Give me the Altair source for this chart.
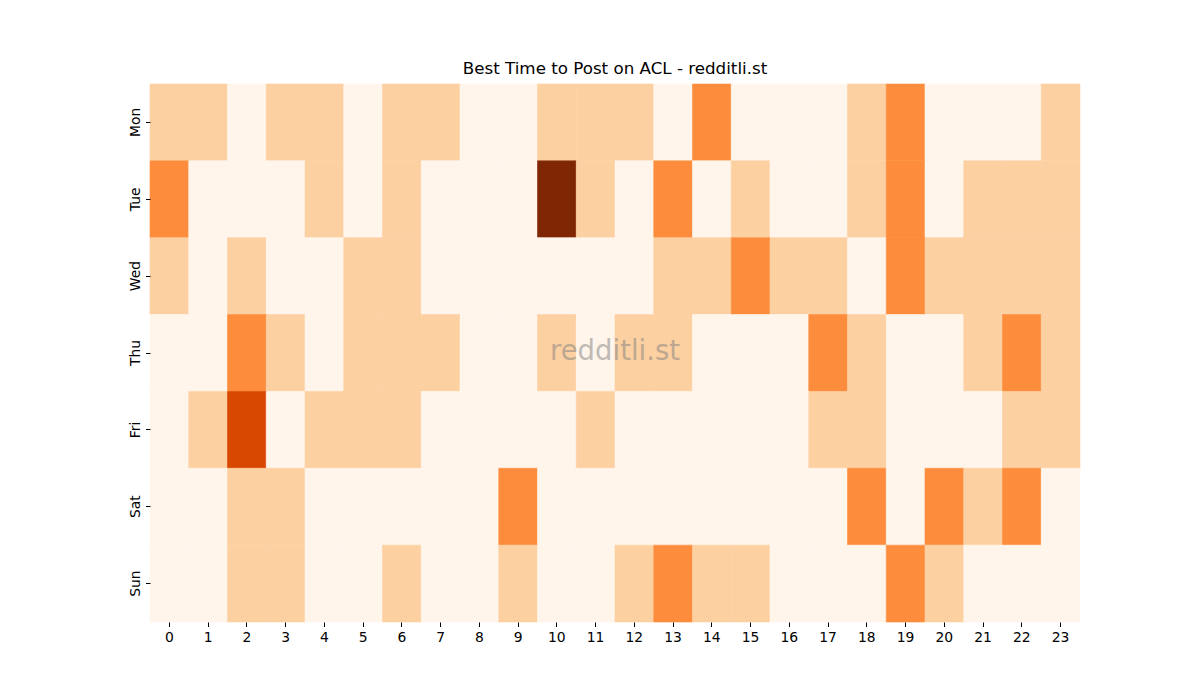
import altair as alt
import pandas as pd

days = ["Mon", "Tue", "Wed", "Thu", "Fri", "Sat", "Sun"]
hours = list(range(24))

mon = [1, 1, 0, 1, 1, 0, 1, 1, 0, 0, 1, 1, 1, 0, 2, 0, 0, 0, 1, 2, 0, 0, 0, 1]
tue = [2, 0, 0, 0, 1, 0, 1, 0, 0, 0, 4, 1, 0, 2, 0, 1, 0, 0, 1, 2, 0, 1, 1, 1]
wed = [1, 0, 1, 0, 0, 1, 1, 0, 0, 0, 0, 0, 0, 1, 1, 2, 1, 1, 0, 2, 1, 1, 1, 1]
thu = [0, 0, 2, 1, 0, 1, 1, 1, 0, 0, 1, 0, 1, 1, 0, 0, 0, 2, 1, 0, 0, 1, 2, 1]
fri = [0, 1, 3, 0, 1, 1, 1, 0, 0, 0, 0, 1, 0, 0, 0, 0, 0, 1, 1, 0, 0, 0, 1, 1]
sat = [0, 0, 1, 1, 0, 0, 0, 0, 0, 2, 0, 0, 0, 0, 0, 0, 0, 0, 2, 0, 2, 1, 2, 0]
sun = [0, 0, 1, 1, 0, 0, 1, 0, 0, 1, 0, 0, 1, 2, 1, 1, 0, 0, 0, 2, 1, 0, 0, 0]

levels = [0, 1, 2, 3, 4]
level_colors = ["#fff5eb", "#fdd0a2", "#fd8d3c", "#d94801", "#7f2704"]

rows = []
for d, vals in zip(days, [mon, tue, wed, thu, fri, sat, sun]):
    for h, v in zip(hours, vals):
        rows.append({"day": d, "hour": h, "value": v})
df = pd.DataFrame(rows)

W, H = 930, 538
cscale = alt.Scale(domain=levels, range=level_colors)

heat = alt.Chart(df).mark_rect(strokeWidth=0.6).encode(
    x=alt.X("hour:O", sort=hours, title=None,
            scale=alt.Scale(paddingInner=0, paddingOuter=0),
            axis=alt.Axis(labelAngle=0, domain=False, ticks=True, tickSize=4.5,
                          tickColor="black", labelColor="black", labelFontSize=13.9,
                          labelFont="DejaVu Sans", labelPadding=4)),
    y=alt.Y("day:O", sort=days, title=None,
            scale=alt.Scale(paddingInner=0, paddingOuter=0),
            axis=alt.Axis(labelAngle=-90, labelAlign="center", labelBaseline="bottom",
                          domain=False, ticks=True, tickSize=4.5, tickColor="black",
                          labelColor="black", labelFontSize=13.9, labelFont="DejaVu Sans",
                          labelPadding=3)),
    color=alt.Color("value:O", scale=cscale, legend=None),
    stroke=alt.Stroke("value:O", scale=cscale, legend=None),
)

wm = alt.Chart(pd.DataFrame({"t": ["redditli.st"]})).mark_text(
    fontSize=27.5, font="DejaVu Sans", color="#808080", opacity=0.5,
    align="center", baseline="middle"
).encode(x=alt.value(W / 2), y=alt.value(H / 2 - 1), text="t:N")

chart = alt.layer(heat, wm).properties(
    width=W, height=H,
    title=alt.TitleParams("Best Time to Post on ACL - redditli.st", fontSize=16.7,
                          font="DejaVu Sans", fontWeight="normal", color="black", offset=6),
    autosize=alt.AutoSizeParams(type="none"),
    padding={"left": 142, "top": 76, "right": 100, "bottom": 60},
).configure_view(stroke=None)

chart.save("out.html", embed_options={"renderer": "svg", "actions": False})
